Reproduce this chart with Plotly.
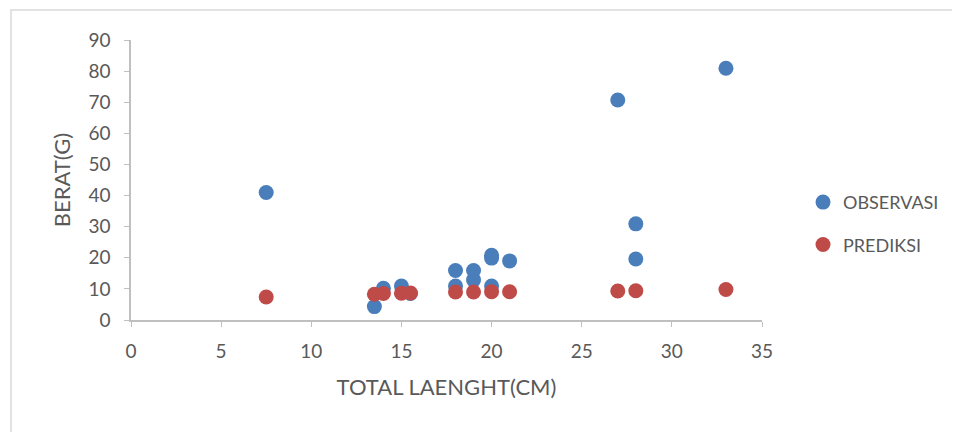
import plotly.graph_objects as go

obs_x = [7.5, 13.5, 14, 15, 15.5, 18, 18, 19, 19, 20, 20, 20, 21, 27, 28, 28, 33]
obs_y = [41, 4.3, 10.2, 10.9, 8.5, 15.9, 10.9, 15.9, 12.9, 20.8, 19.9, 10.9, 19, 70.7, 30.9, 19.6, 80.9]
pred_x = [7.5, 13.5, 14, 15, 15.5, 18, 19, 20, 21, 27, 28, 33]
pred_y = [7.4, 8.3, 8.5, 8.6, 8.7, 9.0, 9.0, 9.1, 9.1, 9.3, 9.4, 9.8]

gray = "#595959"
font = "Lato"

fig = go.Figure()
fig.add_trace(go.Scatter(x=obs_x, y=obs_y, mode="markers", name="OBSERVASI",
                         legendgroup="a", marker=dict(color="#4a7ebb", size=15)))
fig.add_trace(go.Scatter(x=pred_x, y=pred_y, mode="markers", name="PREDIKSI",
                         legendgroup="b", marker=dict(color="#be4b48", size=15)))

fig.update_layout(
    width=952, height=424,
    margin=dict(l=123, r=198, t=32, b=112, autoexpand=False),
    plot_bgcolor="white", paper_bgcolor="white",
    font=dict(family=font, size=19, color=gray),
    xaxis=dict(range=[0, 35], tickvals=[0, 5, 10, 15, 20, 25, 30, 35],
               showgrid=False, zeroline=False, showline=True, linecolor="#bfbfbf",
               linewidth=1.5, ticks="outside", ticklen=5, tickcolor="#bfbfbf",
               ticklabelstandoff=8, automargin=False,
               title=dict(text="TOTAL LAENGHT(CM)", font=dict(size=22, color=gray), standoff=19)),
    yaxis=dict(range=[0, 90], tickvals=list(range(0, 91, 10)),
               showgrid=False, zeroline=False, showline=True, linecolor="#bfbfbf",
               linewidth=1.5, ticks="outside", ticklen=5, tickcolor="#bfbfbf",
               ticklabelstandoff=10, automargin=False,
               title=dict(text="BERAT(G)", font=dict(size=22, color=gray), standoff=12)),
    legend=dict(x=1.065, y=0.345, yanchor="middle", xanchor="left",
                font=dict(size=18, color=gray), itemsizing="trace",
                tracegroupgap=16, itemwidth=30),
    shapes=[dict(type="rect", xref="paper", yref="paper",
                 x0=(3 - 123) / 631, x1=1.5, y0=-0.6, y1=1 + 30 / 280,
                 line=dict(color="#d9d9d9", width=1.5), layer="below")],
)

fig.write_html("out.html")
